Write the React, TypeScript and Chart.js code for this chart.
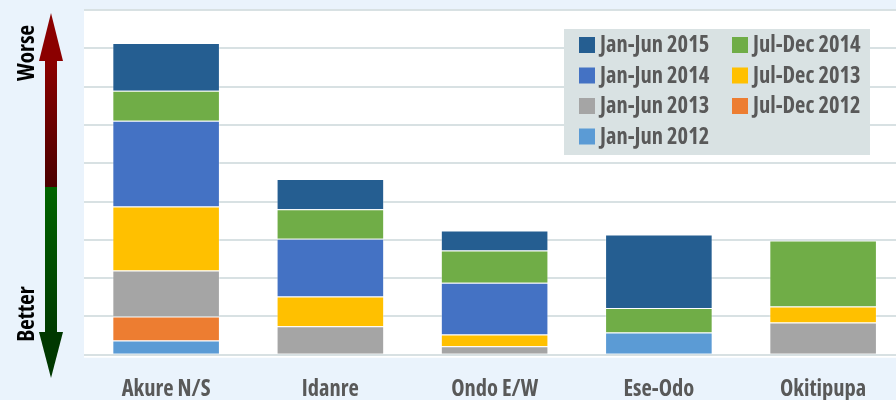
import React, { useEffect, useRef } from 'react';
import { Chart, registerables } from 'chart.js';

Chart.register(...registerables);

const categories = ['Akure N/S', 'Idanre', 'Ondo E/W', 'Ese-Odo', 'Okitipupa'];

const janJun2012 = [0.37, 0, 0, 0.58, 0];
const julDec2012 = [0.63, 0, 0, 0, 0];
const janJun2013 = [1.2, 0.74, 0.22, 0, 0.84];
const julDec2013 = [1.67, 0.78, 0.31, 0, 0.42];
const janJun2014 = [2.24, 1.51, 1.35, 0, 0];
const julDec2014 = [0.78, 0.77, 0.84, 0.64, 1.72];
const janJun2015 = [1.25, 0.79, 0.52, 1.92, 0];

const seriesLabels = ['Jan-Jun 2012', 'Jul-Dec 2012', 'Jan-Jun 2013', 'Jul-Dec 2013', 'Jan-Jun 2014', 'Jul-Dec 2014', 'Jan-Jun 2015'];
const seriesData = [janJun2012, julDec2012, janJun2013, julDec2013, janJun2014, julDec2014, janJun2015];
const seriesColors = ['#5b9bd5', '#ed7d31', '#a5a5a5', '#ffc000', '#4472c4', '#70ad47', '#255e91'];

const axisMax = 9;
const FONT_FAMILY = "'Open Sans', 'DejaVu Sans Condensed', sans-serif";
const fontStr = (size: number) => `condensed bold ${size}px ${FONT_FAMILY}`;

const plotBgPlugin = {
  id: 'plotBg',
  beforeDraw(chart: any) {
    const { ctx, chartArea } = chart;
    ctx.save();
    ctx.fillStyle = '#ffffff';
    ctx.fillRect(chartArea.left, chartArea.top - 1, chartArea.right - chartArea.left, chartArea.bottom - chartArea.top + 4);
    ctx.restore();
  },
};

const decorPlugin = {
  id: 'decor',
  afterDraw(chart: any) {
    const ctx = chart.ctx as CanvasRenderingContext2D;
    ctx.save();
    const cx = 51;
    const shaftHalf = 6;
    const headHalf = 12;
    const mid = 187;
    const redGrad = ctx.createLinearGradient(0, 61, 0, mid);
    redGrad.addColorStop(0, '#8b0000');
    redGrad.addColorStop(1, '#4a0000');
    ctx.fillStyle = redGrad;
    ctx.fillRect(cx - shaftHalf, 60, shaftHalf * 2, mid - 60);
    ctx.fillStyle = '#8b0000';
    ctx.beginPath();
    ctx.moveTo(cx, 13);
    ctx.lineTo(cx + headHalf, 61);
    ctx.lineTo(cx - headHalf, 61);
    ctx.closePath();
    ctx.fill();
    const greenGrad = ctx.createLinearGradient(0, mid, 0, 332);
    greenGrad.addColorStop(0, '#006400');
    greenGrad.addColorStop(1, '#003a00');
    ctx.fillStyle = greenGrad;
    ctx.fillRect(cx - shaftHalf, mid, shaftHalf * 2, 333 - mid);
    ctx.fillStyle = '#003800';
    ctx.beginPath();
    ctx.moveTo(cx - headHalf, 332);
    ctx.lineTo(cx + headHalf, 332);
    ctx.lineTo(cx, 378);
    ctx.closePath();
    ctx.fill();

    ctx.fillStyle = '#000000';
    ctx.font = fontStr(23);
    ctx.textAlign = 'center';
    ctx.textBaseline = 'middle';
    ctx.save();
    ctx.translate(27, 53);
    ctx.rotate(-Math.PI / 2);
    ctx.fillText('Worse', 0, 0);
    ctx.restore();
    ctx.save();
    ctx.translate(27, 314);
    ctx.rotate(-Math.PI / 2);
    ctx.fillText('Better', 0, 0);
    ctx.restore();

    ctx.fillStyle = '#d9e2e3';
    ctx.fillRect(564, 29, 306, 126);
    const order = chart.data.datasets.map((_: any, i: number) => i).reverse();
    ctx.font = fontStr(22.5);
    ctx.textAlign = 'left';
    ctx.textBaseline = 'middle';
    order.forEach((dsIndex: number, k: number) => {
      const ds = chart.data.datasets[dsIndex];
      const col = k % 2;
      const row = Math.floor(k / 2);
      const sx = 579 + col * 153;
      const sy = 45 + row * 30.5;
      ctx.fillStyle = ds.backgroundColor;
      ctx.fillRect(sx, sy - 8, 16, 16);
      ctx.fillStyle = '#595959';
      ctx.fillText(ds.label, sx + 21, sy + 1);
    });
    ctx.restore();
  },
};

export default function App() {
  const canvasRef = useRef<HTMLCanvasElement | null>(null);

  useEffect(() => {
    const canvas = canvasRef.current;
    if (!canvas) return;
    const chart = new Chart(canvas, {
      type: 'bar',
      data: {
        labels: categories,
        datasets: seriesData.map((d, i) => ({
          label: seriesLabels[i],
          data: d,
          backgroundColor: seriesColors[i],
          borderColor: 'rgba(255,255,255,0.35)',
          borderWidth: 1,
          barPercentage: 0.655,
          categoryPercentage: 1,
        })),
      },
      options: {
        animation: false,
        responsive: false,
        devicePixelRatio: 1,
        layout: { padding: { left: 84, top: 10, right: 14.75, bottom: 0 } },
        plugins: { legend: { display: false }, tooltip: { enabled: false } },
        scales: {
          x: {
            stacked: true,
            grid: { display: false, drawTicks: false },
            border: { display: false },
            ticks: {
              color: '#595959',
              font: { family: FONT_FAMILY, size: 22.5, weight: 'bold condensed' as any },
              padding: 21,
              maxRotation: 0,
            },
            afterFit: (s: any) => {
              s.height = 45.3;
            },
          },
          y: {
            stacked: true,
            min: 0,
            max: axisMax,
            ticks: { display: false, stepSize: 1 },
            grid: { color: '#d8e1e3', lineWidth: 2, drawTicks: false },
            border: { display: false },
            afterFit: (s: any) => {
              s.width = 0;
            },
          },
        },
      },
      plugins: [plotBgPlugin, decorPlugin],
    });
    return () => chart.destroy();
  }, []);

  return (
    <div
      style={{
        position: 'fixed',
        left: 0,
        top: 0,
        width: 896,
        height: 400,
        overflow: 'hidden',
        background: '#eaf3fc',
      }}
    >
      <canvas ref={canvasRef} width={920} height={400} style={{ display: 'block', width: 920, height: 400 }} />
    </div>
  );
}
